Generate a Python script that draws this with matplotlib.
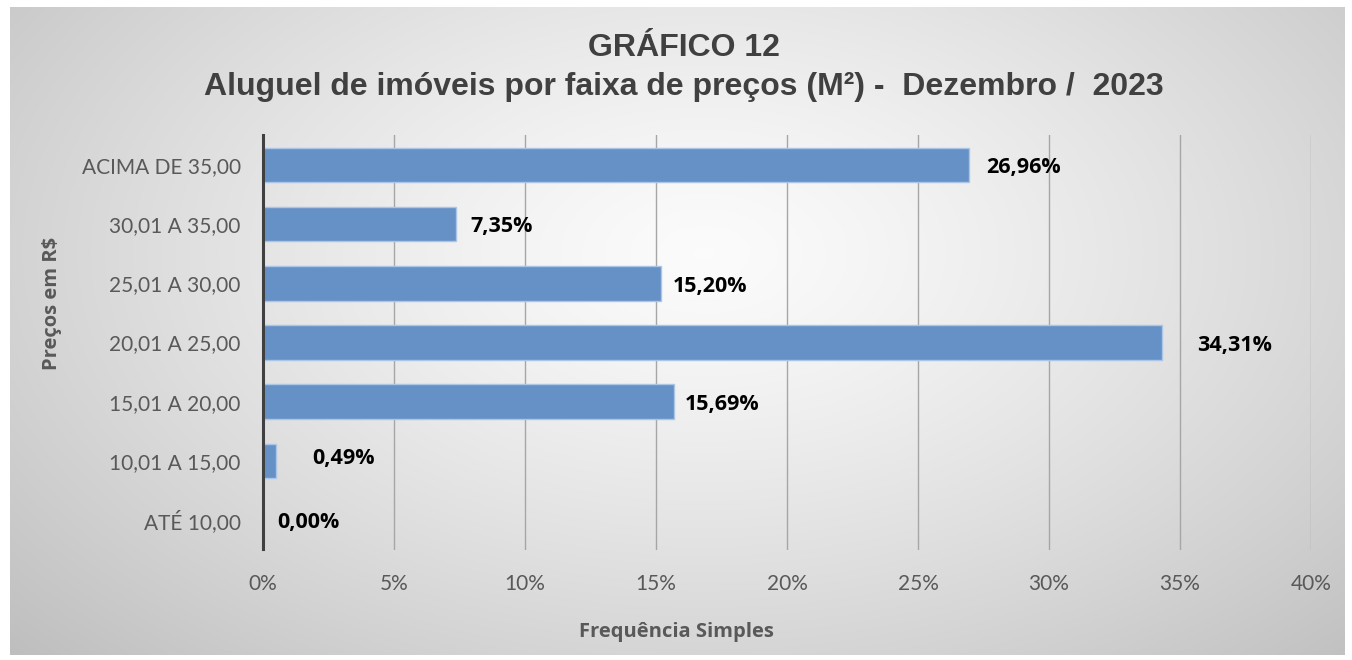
import numpy as np
import matplotlib.pyplot as plt
from matplotlib.ticker import FuncFormatter

# faixas de preço (de baixo para cima) e frequência simples em %
faixas = ['ATÉ 10,00', '10,01 A 15,00', '15,01 A 20,00', '20,01 A 25,00',
          '25,01 A 30,00', '30,01 A 35,00', 'ACIMA DE 35,00']
frequencia = [0.00, 0.49, 15.69, 34.31, 15.20, 7.35, 26.96]
rotulos = ['0,00%', '0,49%', '15,69%', '34,31%', '15,20%', '7,35%', '26,96%']

fig = plt.figure(figsize=(13.52, 6.6), dpi=100)
fig.patch.set_facecolor('white')

# fundo com gradiente radial
bg = fig.add_axes([10 / 1352, 5 / 660, 1335 / 1352, 648 / 660])
yy, xx = np.mgrid[0:1:300j, 0:1:600j]
r = np.sqrt(((xx - 0.52) / 0.72) ** 2 + ((yy - 0.38) / 0.9) ** 2)
g = np.clip(0.985 - 0.24 * r ** 1.3, 0.74, 1)
bg.imshow(np.dstack([g, g, g]), aspect='auto', extent=[0, 1, 0, 1], origin='upper')
bg.set_axis_off()

ax = fig.add_axes([263 / 1352, 1 - 549.5 / 660, (1311 - 263) / 1352, (549.5 - 135.5) / 660])
ax.patch.set_alpha(0)
y = np.arange(len(faixas))
ax.barh(y, frequencia, height=0.58, color='#6591c6', edgecolor='#aac5e6', linewidth=1, zorder=3)

ax.set_xlim(0, 40)
ax.set_ylim(-0.5, len(faixas) - 0.5)
ax.set_xticks(np.arange(0, 41, 5))
ax.xaxis.set_major_formatter(FuncFormatter(lambda v, p: f'{v:.0f}%'))
ax.set_yticks(y)
ax.set_yticklabels(faixas)
ax.grid(axis='x', color='#a6a6a6', linewidth=1, zorder=0)
ax.tick_params(axis='both', length=0, labelsize=15, labelcolor='#595959')
ax.tick_params(axis='x', pad=18)
ax.tick_params(axis='y', pad=16)
for lab in ax.get_xticklabels() + ax.get_yticklabels():
    lab.set_family('Lato')
for s in ['top', 'right', 'bottom']:
    ax.spines[s].set_visible(False)
ax.spines['left'].set_color('#404040')
ax.spines['left'].set_linewidth(2.2)
ax.spines['left'].set_zorder(4)

# ajustes finos dos rótulos (pontos)
desloc_x = [10, 26, 8, 25, 8, 11, 12]
desloc_y = [-2, 2, -2, -2, -2, -2, -2]
for i, (v, t) in enumerate(zip(frequencia, rotulos)):
    ax.annotate(t, (v, i), xytext=(desloc_x[i], desloc_y[i]), textcoords='offset points',
                va='center', ha='left', fontsize=15.5, fontweight='bold',
                color='black', family='Open Sans')

ax.set_xlabel('Frequência Simples', fontsize=14.5, fontweight='bold', color='#595959',
              family='Open Sans')
ax.xaxis.set_label_coords((676 - 263) / (1311 - 263), -(622 - 549.5) / 414)
ax.set_ylabel('Preços em R$', fontsize=14.5, fontweight='bold', color='#595959',
              family='Open Sans')
ax.yaxis.set_label_coords(-(263 - 62) / 1048, (549.5 - 303) / 414)

fig.text(0.506, 1 - 48 / 660, 'GRÁFICO 12', ha='center', va='center', fontsize=23,
         fontweight='bold', color='#404040', family='Liberation Sans')
fig.text(0.506, 1 - 87 / 660, 'Aluguel de imóveis por faixa de preços (M²) -  Dezembro /  2023',
         ha='center', va='center', fontsize=23, fontweight='bold', color='#404040',
         family='Liberation Sans')

plt.savefig('out.png', dpi=100)
